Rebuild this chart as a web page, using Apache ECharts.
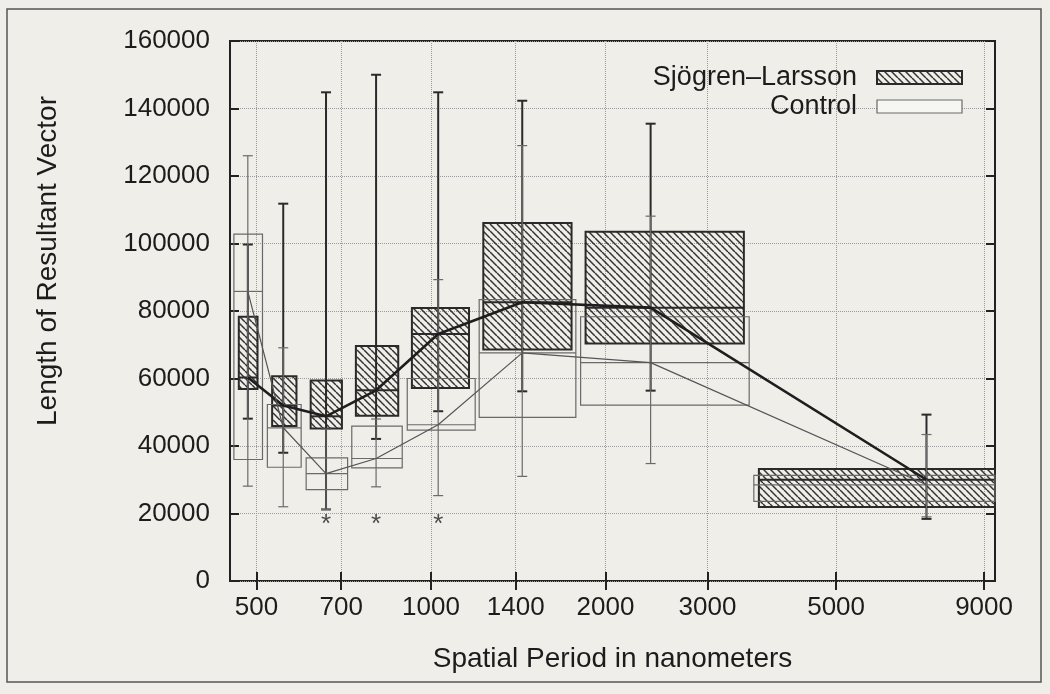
<!DOCTYPE html>
<html>
<head>
<meta charset="utf-8">
<title>Length of Resultant Vector</title>
<script src="https://cdn.jsdelivr.net/npm/echarts@6/dist/echarts.min.js"></script>
<style>
  html, body { margin: 0; padding: 0; background: #efeee9; }
  #main { width: 1050px; height: 694px; }
</style>
</head>
<body>
<div id="main"></div>
<script type="text/javascript">
// spatial period (nm) at which each pair of boxes is centred
var periods = [483, 556, 659, 804, 1029, 1437, 2393, 7160];
var xTicks = [500, 700, 1000, 1400, 2000, 3000, 5000, 9000];

// Sjogren-Larsson boxes
var slLeft   = [466, 532, 620, 742, 927, 1231, 1848, 3679];
var slRight  = [502, 586, 702, 878, 1163, 1748, 3466, 15000];
var slLow    = [48100, 38000, 21200, 42100, 50300, 56200, 56400, 18400];
var slQ1     = [56900, 45900, 45200, 49000, 57200, 68600, 70400, 21900];
var slMedian = [60300, 52000, 48800, 56500, 73200, 82600, 81000, 30000];
var slQ3     = [78300, 60700, 59400, 69600, 80900, 106100, 103500, 33200];
var slHigh   = [99700, 111800, 144800, 150000, 144800, 142300, 135500, 49300];

// Control boxes
var ctLeft   = [457, 522, 609, 730, 910, 1211, 1812, 3606];
var ctRight  = [512, 597, 718, 892, 1192, 1778, 3540, 15000];
var ctLow    = [28100, 22000, 21200, 27900, 25300, 31000, 34800, 19000];
var ctQ1     = [36000, 33700, 27100, 33500, 44700, 48500, 52100, 23600];
var ctMedian = [85800, 45400, 31800, 36300, 46300, 67600, 64700, 28500];
var ctQ3     = [102800, 52300, 36500, 45900, 60000, 83400, 78300, 31300];
var ctHigh   = [126000, 69100, 45000, 48000, 89300, 129000, 108100, 43400];

// significant differences marked with *
var starPeriods = [659, 804, 1029];
var starLevel = 16500;

var FONT = 'Liberation Sans, Arial, sans-serif';

// diagonal hatch used for the Sjogren-Larsson boxes
var tile = document.createElement('canvas');
tile.width = 7; tile.height = 7;
var tctx = tile.getContext('2d');
tctx.strokeStyle = '#333';
tctx.lineWidth = 1.5;
[-7, 0, 7].forEach(function (o) {
    tctx.beginPath();
    tctx.moveTo(o, 0);
    tctx.lineTo(o + 7, 7);
    tctx.stroke();
});
var hatch = { image: tile, repeat: 'repeat' };

function boxRows(left, right, low, q1, med, q3, high) {
    return periods.map(function (p, i) {
        return [p, low[i], q1[i], med[i], q3[i], high[i], left[i], right[i]];
    });
}

function boxRenderer(fill, stroke, width) {
    return function (params, api) {
        var cs = params.coordSys;
        var x = api.value(0);
        var tl = api.coord([api.value(6), api.value(4)]);
        var br = api.coord([api.value(7), api.value(2)]);
        var hi = api.coord([x, api.value(5)]);
        var lo = api.coord([x, api.value(1)]);
        var md = api.coord([x, api.value(3)]);
        var rect = echarts.graphic.clipRectByRect(
            { x: tl[0], y: tl[1], width: br[0] - tl[0], height: br[1] - tl[1] },
            { x: cs.x, y: cs.y, width: cs.width, height: cs.height });
        var line = { stroke: stroke, lineWidth: width };
        var children = [];
        if (rect) {
            children.push({ type: 'rect', shape: rect,
                style: { fill: fill, stroke: stroke, lineWidth: width } });
            children.push({ type: 'line',
                shape: { x1: rect.x, y1: md[1], x2: rect.x + rect.width, y2: md[1] },
                style: line });
        }
        children.push({ type: 'line', shape: { x1: hi[0], y1: hi[1], x2: lo[0], y2: lo[1] }, style: line });
        children.push({ type: 'line', shape: { x1: hi[0] - 5, y1: hi[1], x2: hi[0] + 5, y2: hi[1] }, style: line });
        children.push({ type: 'line', shape: { x1: lo[0] - 5, y1: lo[1], x2: lo[0] + 5, y2: lo[1] }, style: line });
        return { type: 'group', children: children };
    };
}

var chart = echarts.init(document.getElementById('main'));

var option = {
    backgroundColor: '#efeee9',
    animation: false,
    textStyle: { fontFamily: FONT },
    grid: {
        left: 230, right: 55, top: 41, bottom: 113,
        show: true, borderColor: '#222', borderWidth: 2, backgroundColor: 'transparent'
    },
    legend: {
        orient: 'vertical',
        align: 'right',
        right: 82,
        top: 59,
        itemWidth: 85,
        itemHeight: 13,
        itemGap: 2,
        textStyle: { fontSize: 27, color: '#1c1c1c', fontFamily: FONT, padding: [0, 15, 0, 0] },
        data: [
            { name: 'Sjögren–Larsson', icon: 'rect',
              itemStyle: { color: hatch, borderColor: '#2a2a2a', borderWidth: 2 } },
            { name: 'Control', icon: 'rect',
              itemStyle: { color: '#f6f6f2', borderColor: '#6a6a6a', borderWidth: 1.2 } }
        ]
    },
    xAxis: [{
        type: 'log',
        min: 450,
        max: 9400,
        name: 'Spatial Period in nanometers',
        nameLocation: 'middle',
        nameGap: 64,
        nameTextStyle: { fontSize: 28, color: '#1c1c1c', fontFamily: FONT },
        axisLine: { show: false },
        axisTick: { inside: true, length: 9, customValues: xTicks, lineStyle: { color: '#222', width: 2 } },
        axisLabel: { customValues: xTicks, fontSize: 26, color: '#1c1c1c', margin: 14,
            formatter: function (v) { return String(Math.round(v)); } },
        minorTick: { show: false },
        splitLine: { show: true, lineStyle: { color: '#9a9a9a', type: 'dotted', width: 1 } }
    }, {
        type: 'log',
        position: 'top',
        min: 450,
        max: 9400,
        axisLine: { show: false },
        axisTick: { inside: true, length: 9, customValues: xTicks, lineStyle: { color: '#222', width: 2 } },
        axisLabel: { show: false },
        splitLine: { show: false }
    }],
    yAxis: [{
        type: 'value',
        min: 0,
        max: 160000,
        interval: 20000,
        name: 'Length of Resultant Vector',
        nameLocation: 'middle',
        nameGap: 168,
        nameTextStyle: { fontSize: 28, color: '#1c1c1c', fontFamily: FONT, padding: [0, 0, 0, 100] },
        axisLine: { show: false },
        axisTick: { inside: true, length: 9, lineStyle: { color: '#222', width: 2 } },
        axisLabel: { fontSize: 26, color: '#1c1c1c', margin: 20,
            formatter: function (v) { return String(v); } },
        splitLine: { show: true, lineStyle: { color: '#9a9a9a', type: 'dotted', width: 1 } }
    }, {
        type: 'value',
        position: 'right',
        min: 0,
        max: 160000,
        interval: 20000,
        axisLine: { show: false },
        axisTick: { inside: true, length: 9, lineStyle: { color: '#222', width: 2 } },
        axisLabel: { show: false },
        splitLine: { show: false }
    }],
    series: [
        {
            name: 'Sjögren–Larsson',
            type: 'custom',
            itemStyle: { color: '#555' },
            renderItem: boxRenderer(hatch, '#2a2a2a', 2),
            encode: { x: [0, 6, 7], y: [1, 2, 3, 4, 5] },
            data: boxRows(slLeft, slRight, slLow, slQ1, slMedian, slQ3, slHigh),
            z: 2
        },
        {
            name: 'Control',
            type: 'custom',
            itemStyle: { color: '#999' },
            renderItem: boxRenderer('transparent', '#6a6a6a', 1.2),
            encode: { x: [0, 6, 7], y: [1, 2, 3, 4, 5] },
            data: boxRows(ctLeft, ctRight, ctLow, ctQ1, ctMedian, ctQ3, ctHigh),
            z: 3
        },
        {
            name: 'sl-median',
            type: 'line',
            data: periods.map(function (p, i) { return [p, slMedian[i]]; }),
            symbol: 'none',
            lineStyle: { color: '#1e1e1e', width: 2.6 },
            z: 4
        },
        {
            name: 'ct-median',
            type: 'line',
            data: periods.map(function (p, i) { return [p, ctMedian[i]]; }),
            symbol: 'none',
            lineStyle: { color: '#555', width: 1.2 },
            z: 4
        },
        {
            name: 'stars',
            type: 'scatter',
            data: starPeriods.map(function (p) { return [p, starLevel]; }),
            symbolSize: 1,
            itemStyle: { color: 'transparent' },
            label: { show: true, position: 'inside', formatter: '*', fontSize: 26, color: '#222', fontFamily: FONT }
        }
    ],
    graphic: [{
        type: 'rect',
        shape: { x: 7, y: 9, width: 1034, height: 673 },
        style: { fill: 'transparent', stroke: '#555', lineWidth: 1.5 },
        silent: true
    }]
};

chart.setOption(option);
</script>
</body>
</html>
